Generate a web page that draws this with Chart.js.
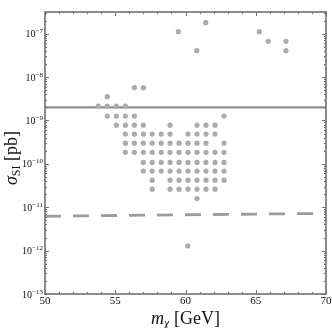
<!DOCTYPE html>
<html>
<head>
<meta charset="UTF-8">
<title>sigma_SI vs m_chi</title>
<script src="https://cdn.jsdelivr.net/npm/chart.js"></script>
<style>
  html, body { margin: 0; padding: 0; background: #fff; }
  #wrap { position: relative; width: 332px; height: 328px; }
</style>
</head>
<body>
<div id="wrap"><canvas id="chart" width="332" height="328"></canvas></div>
<script>
// scan grid: column masses (GeV) and row cross sections (pb)
const gridMass = [53.79, 54.43, 55.08, 55.72, 56.36, 57.0, 57.63, 58.27, 58.9, 59.54, 60.18, 60.82, 61.46, 62.1, 62.74];
const gridSigma = [5.7e-9, 3.53e-9, 2.15e-9, 1.26e-9, 7.8e-10, 4.86e-10, 3.0e-10, 1.84e-10, 1.08e-10, 6.8e-11, 4.2e-11, 2.6e-11, 1.58e-11];
// filled columns, one list per row
const gridCols = [
  [4, 5],
  [1],
  [0, 1, 2, 3],
  [1, 2, 3, 4, 14],
  [2, 3, 4, 5, 8, 11, 12, 13],
  [3, 4, 5, 6, 7, 8, 10, 11, 12, 13],
  [3, 4, 5, 6, 7, 8, 9, 10, 11, 12, 14],
  [3, 4, 5, 6, 7, 8, 9, 10, 11, 12, 13, 14],
  [5, 6, 7, 8, 9, 10, 11, 12, 13, 14],
  [5, 6, 7, 8, 9, 10, 11, 12, 13, 14],
  [6, 8, 9, 10, 11, 12, 13, 14],
  [6, 8, 9, 10, 11, 12, 13],
  [11]
];
// isolated points
const extraMass = [59.49, 61.44, 60.8, 65.25, 65.89, 67.15, 67.15, 60.16];
const extraSigma = [1.11e-7, 1.79e-7, 4.06e-8, 1.11e-7, 6.65e-8, 6.65e-8, 4.06e-8, 1.28e-12];

// limit lines
const solidMass = [50, 70];
const solidSigma = [2.0e-9, 2.0e-9];
const dashMass = [50, 60, 70];
const dashSigma = [6.2e-12, 6.7e-12, 7.2e-12];

const xTicks = [50, 55, 60, 65, 70];
const yExponents = [-7, -8, -9, -10, -11, -12, -13];

const SERIF = '"Liberation Serif", "DejaVu Serif", serif';

const points = [];
gridCols.forEach((cols, r) => {
  cols.forEach(c => points.push({ x: gridMass[c], y: gridSigma[r] }));
});
extraMass.forEach((m, i) => points.push({ x: m, y: extraSigma[i] }));

// draw a row of text pieces (for sub/superscripts)
function drawRuns(ctx, runs, x, y, align) {
  let total = 0;
  runs.forEach(r => { ctx.font = r.font; r.w = ctx.measureText(r.text).width; total += r.w; });
  let cx = align === 'right' ? x - total : align === 'center' ? x - total / 2 : x;
  ctx.textAlign = 'left';
  ctx.textBaseline = 'alphabetic';
  runs.forEach(r => {
    ctx.font = r.font;
    ctx.fillText(r.text, cx, y + (r.dy || 0));
    cx += r.w;
  });
}

const frame = {
  id: 'frame',
  afterDraw(chart) {
    const { ctx, chartArea: a, scales: { x, y } } = chart;
    ctx.save();
    ctx.strokeStyle = '#707070';
    ctx.lineWidth = 1;
    ctx.beginPath();
    for (let m = 50; m <= 70; m++) {
      const px = Math.round(x.getPixelForValue(m)) + 0.5;
      const len = m % 5 === 0 ? 4 : 2;
      ctx.moveTo(px, a.bottom); ctx.lineTo(px, a.bottom - len);
      ctx.moveTo(px, a.top); ctx.lineTo(px, a.top + len);
    }
    for (let e = -13; e <= -7; e++) {
      for (let k = 1; k <= 9; k++) {
        const v = k * Math.pow(10, e);
        if (v > y.max) break;
        const py = Math.round(y.getPixelForValue(v)) + 0.5;
        const len = k === 1 ? 4 : 2;
        ctx.moveTo(a.left, py); ctx.lineTo(a.left + len, py);
        ctx.moveTo(a.right, py); ctx.lineTo(a.right - len, py);
      }
    }
    ctx.stroke();
    ctx.lineWidth = 1.6;
    ctx.strokeRect(a.left, a.top, a.right - a.left, a.bottom - a.top);

    ctx.fillStyle = '#111';
    yExponents.forEach(e => {
      const py = y.getPixelForValue(Math.pow(10, e));
      drawRuns(ctx, [
        { text: '10', font: '10px ' + SERIF, dy: 3.5 },
        { text: '\u2212' + Math.abs(e), font: '7px ' + SERIF, dy: -0.5 }
      ], a.left - 2, py, 'right');
    });
    xTicks.forEach(m => {
      drawRuns(ctx, [{ text: String(m), font: '11px ' + SERIF }], x.getPixelForValue(m), a.bottom + 9.5, 'center');
    });

    drawRuns(ctx, [
      { text: 'm', font: 'italic 18px ' + SERIF },
      { text: '\u03c7', font: 'italic 12px ' + SERIF, dy: 3 },
      { text: ' [GeV]', font: '18px ' + SERIF }
    ], (a.left + a.right) / 2, 324, 'center');

    ctx.translate(17, (a.top + a.bottom) / 2 + 5);
    ctx.rotate(-Math.PI / 2);
    drawRuns(ctx, [
      { text: '\u03c3', font: 'italic 18px ' + SERIF },
      { text: 'SI', font: '12px ' + SERIF, dy: 3 },
      { text: ' [pb]', font: '18px ' + SERIF }
    ], 0, 0, 'center');
    ctx.restore();
  }
};

new Chart(document.getElementById('chart'), {
  type: 'scatter',
  data: {
    datasets: [
      {
        data: points,
        backgroundColor: '#ababab',
        borderWidth: 0,
        pointRadius: 2.6,
        order: 0
      },
      {
        type: 'line',
        data: solidMass.map((m, i) => ({ x: m, y: solidSigma[i] })),
        borderColor: '#8e8e8e',
        borderWidth: 2.2,
        pointRadius: 0,
        order: 1
      },
      {
        type: 'line',
        data: dashMass.map((m, i) => ({ x: m, y: dashSigma[i] })),
        borderColor: '#9c9c9c',
        borderWidth: 2.8,
        borderDash: [16, 12],
        pointRadius: 0,
        order: 1
      }
    ]
  },
  options: {
    responsive: false,
    animation: false,
    layout: { padding: { left: 45, top: 12, right: 6, bottom: 34 } },
    plugins: { legend: { display: false }, tooltip: { enabled: false } },
    scales: {
      x: { type: 'linear', min: 50, max: 70, display: false },
      y: { type: 'logarithmic', min: 1e-13, max: 3.16e-7, display: false }
    }
  },
  plugins: [frame]
});
</script>
</body>
</html>
